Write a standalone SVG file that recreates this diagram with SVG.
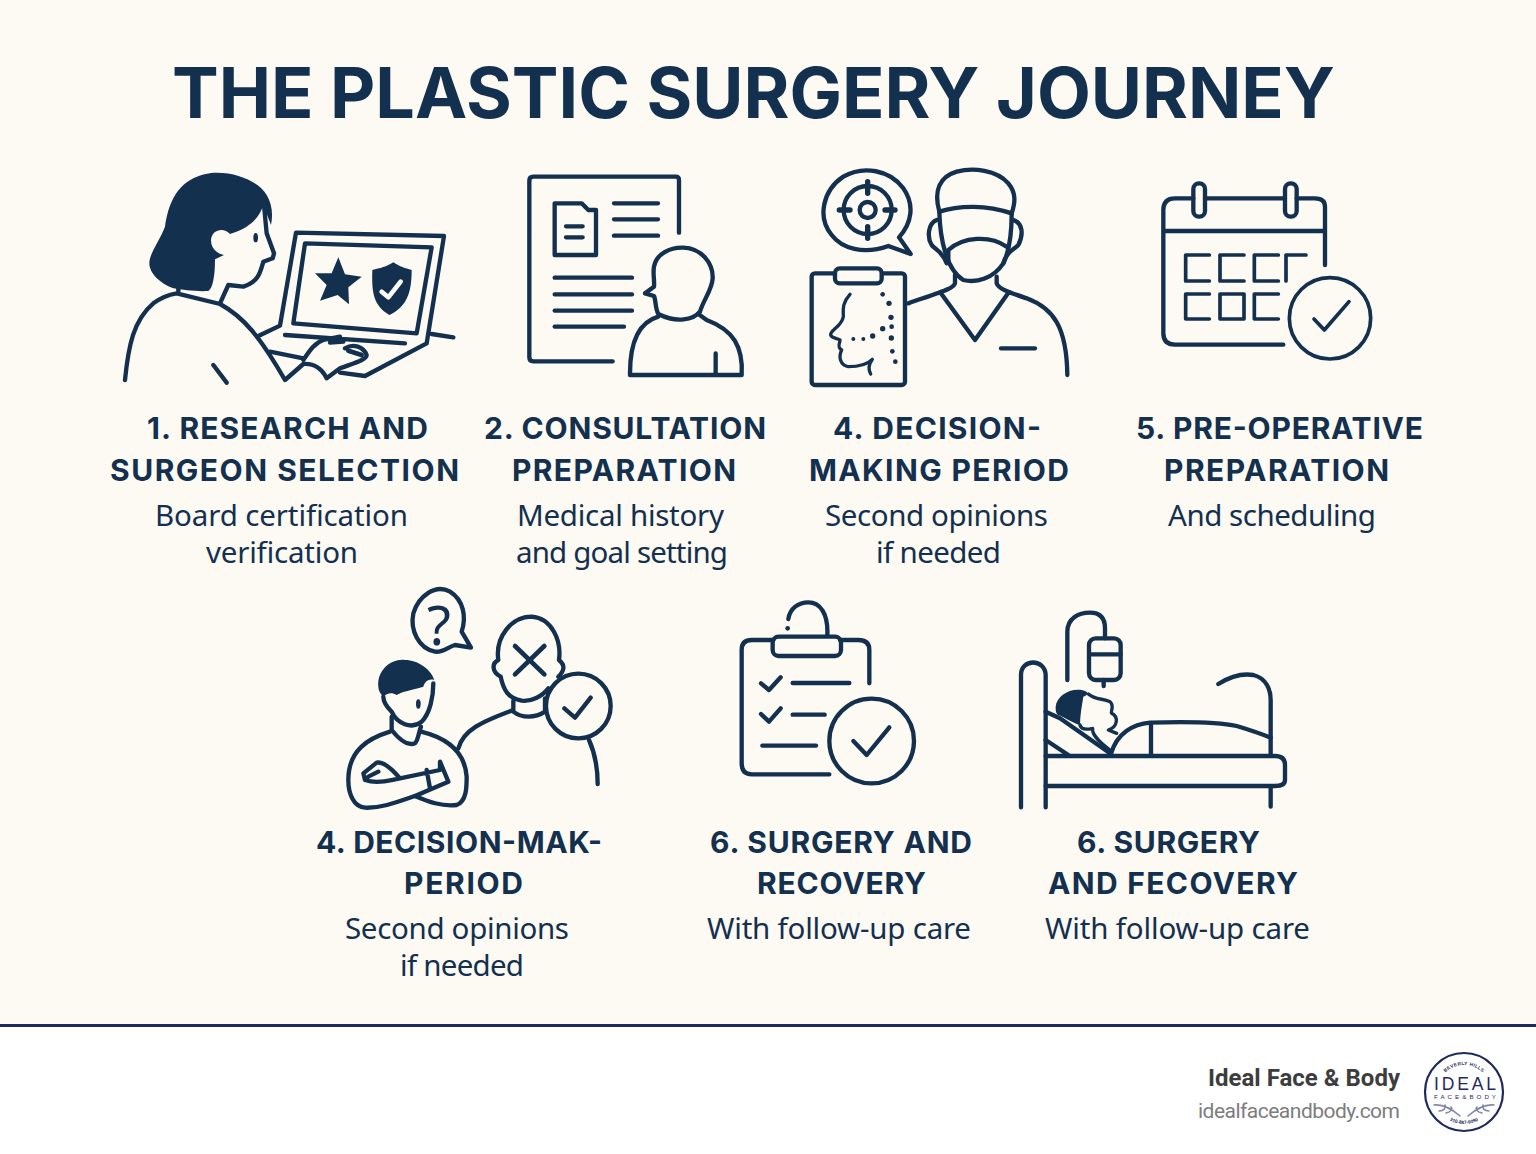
<svg xmlns="http://www.w3.org/2000/svg" width="1536" height="1154" viewBox="0 0 1536 1154">
<style>
.i{fill:none;stroke:#13304f;stroke-width:13;stroke-linecap:round;stroke-linejoin:round}
.t{stroke-width:11}
.f{fill:#13304f;stroke:none}
.b{fill:#fdf9f3}
.h{font-family:"Inter","Liberation Sans",sans-serif;font-weight:700;font-size:30px;fill:#13304f}
.p{font-family:"Noto Sans","Liberation Sans",sans-serif;font-size:29.5px;fill:#13304f}
.l{font-family:"Liberation Sans",sans-serif;fill:#1f2a5c}
</style>
<rect width="1536" height="1154" fill="#fdf9f3"/>
<rect y="1026" width="1536" height="128" fill="#fff"/>
<rect y="1024" width="1536" height="3" fill="#1f2a5c"/>
<text id="title" x="172" y="118" textLength="1163" font-family="Inter,'Liberation Sans',sans-serif" font-weight="700" font-size="70" fill="#13304f">THE PLASTIC SURGERY JOURNEY</text>

<g id="step1">
<g class="i" transform="translate(110,160) scale(.33333)">
<path class="f" d="M320 38C390 38 450 70 470 105C485 130 490 160 483 195L460 135C450 170 420 205 360 222C340 200 305 210 303 240C303 265 320 280 342 285L315 298C315 340 310 385 295 393C260 395 220 390 190 385C150 370 118 340 118 310C118 280 150 240 165 200C175 130 200 80 250 55C275 42 300 38 320 38Z"/>
<path d="M462 135L470 220L492 280L488 295L460 305C450 340 445 365 400 380L355 375L330 430"/>
<ellipse class="f" cx="437" cy="233" rx="7" ry="14"/>
<path d="M45 660C55 560 70 480 130 430C150 415 170 405 200 400L330 432C400 470 450 530 525 660L580 612C610 610 635 625 650 655L690 625C730 610 770 600 770 585C760 560 730 550 705 565M205 385V400M310 615L350 668"/>
<path d="M445 528L510 497L558 218L1002 228L950 550L765 648L690 638M965 522L1030 532"/>
<path d="M585 250L965 262L920 520L550 490Z"/>
<path d="M525 525L885 550M480 575L580 595M580 600C600 570 615 548 640 540L690 530M660 548L700 545"/>
<path d="M715 572L755 585" stroke-width="14"/>
<polygon class="f" points="685,292 705,343 755,350 715,382 717,433 683,405 630,422 650,375 615,340 665,340"/>
<path class="f" d="M850 307C870 320 885 325 905 330C905 400 890 440 838 465C790 435 785 400 787 330C810 325 830 320 850 307Z"/>
<path d="M815 395L835 412L872 365" stroke="#fdf9f3" stroke-width="14"/>
</g>
<text class="h" x="147" y="439" textLength="281">1. RESEARCH AND</text>
<text class="h" x="110" y="481" textLength="349">SURGEON SELECTION</text>
<text class="p" x="155" y="526" textLength="253">Board certification</text>
<text class="p" x="206" y="563" textLength="152">verification</text>
</g>

<g id="step2">
<g class="i" transform="translate(510,160) scale(.33333)">
<path d="M507 218V60Q507 50 497 50H70Q58 50 58 62V592Q58 604 70 604H308"/>
<path d="M134 130H215L235 150H258V285H134Z"/>
<path d="M168 199H218M168 232H218M312 130H444M312 178H444M312 227H444M134 353H366M134 403H366M134 452H366M134 500H342"/>
<path d="M432 320C440 280 480 262 520 263C575 265 610 310 608 355C606 390 580 420 570 455C550 480 500 490 445 462C435 445 438 420 432 408L405 400L432 380C434 360 428 340 432 320Z"/>
<path d="M445 470C410 480 360 510 360 640V645H695C700 560 670 510 590 480L565 462M617 580V645"/>
</g>
<text class="h" x="484" y="439" textLength="282">2. CONSULTATION</text>
<text class="h" x="512" y="481" textLength="224">PREPARATION</text>
<text class="p" x="517" y="526" textLength="207">Medical history</text>
<text class="p" x="516" y="563" textLength="212">and goal setting</text>
</g>

<g id="step3">
<g class="i" transform="translate(800,160) scale(.33333)">
<path d="M265 258C190 285 125 265 95 225C50 170 70 90 130 50C190 15 270 30 310 85C345 135 335 190 297 232L332 282Z"/>
<circle cx="203" cy="150" r="72"/><circle cx="203" cy="150" r="24"/>
<path d="M203 65V100M203 200V235M118 150H150M255 150H285" stroke-width="16"/>
<path d="M418 155C400 90 420 50 470 35C520 22 590 30 625 70C650 100 645 130 635 160C560 135 480 135 418 155Z"/>
<path d="M418 155C420 240 440 330 490 360C530 370 580 355 610 310C630 270 635 210 635 160"/>
<path d="M445 270C490 230 570 225 620 260M445 270V310M410 180C385 190 380 230 395 255C405 270 425 270 440 310M640 180C670 190 670 225 655 255C640 270 620 275 610 310"/>
<path d="M465 345V370C460 385 440 390 325 430M590 350V370C595 385 620 395 680 415C760 445 800 500 802 645M425 403L525 540L622 403M603 565H705"/>
<rect x="35" y="340" width="280" height="335" rx="10"/>
<rect class="b" x="105" y="325" width="140" height="45" rx="14"/>
<path stroke-width="10" d="M150 403C125 430 130 450 130 470C125 500 90 510 92 525C95 535 115 535 120 540C120 550 110 560 125 570C115 590 120 615 145 620C170 620 200 615 217 598C205 615 205 630 212 642"/>
<g class="f"><circle cx="248" cy="403" r="7"/><circle cx="267" cy="430" r="8"/><circle cx="273" cy="472" r="8"/><circle cx="275" cy="500" r="7"/><circle cx="248" cy="506" r="8"/><circle cx="218" cy="528" r="8"/><circle cx="190" cy="537" r="6"/><circle cx="160" cy="537" r="6"/><circle cx="274" cy="534" r="8"/><circle cx="277" cy="574" r="7"/><circle cx="286" cy="605" r="7"/></g>
</g>
<text class="h" x="833" y="439" textLength="208">4. DECISION-</text>
<text class="h" x="809" y="481" textLength="260">MAKING PERIOD</text>
<text class="p" x="825" y="526" textLength="223">Second opinions</text>
<text class="p" x="876" y="563" textLength="125">if needed</text>
</g>

<g id="step4">
<g class="i" transform="translate(1150,170) scale(.33333)">
<path d="M525 285V110Q525 85 495 85H440M405 85H165M130 85H75Q40 85 40 120V490Q40 524 75 524H400M40 183H525"/>
<rect x="130" y="40" width="35" height="100" rx="17"/><rect x="405" y="40" width="35" height="100" rx="17"/>
<path class="t" d="M178 255H107V333H178M282 255H210V333H282M385 255H313V333H385M468 255H408V333M178 372H107V447H178M210 372H282V447H210ZM385 372H313V447H385"/>
<circle class="t" cx="540" cy="445" r="122"/>
<path class="t" d="M492 447L523 480L597 395"/>
</g>
<text class="h" x="1136" y="439" textLength="287">5. PRE-OPERATIVE</text>
<text class="h" x="1164" y="481" textLength="225">PREPARATION</text>
<text class="p" x="1168" y="526" textLength="208">And scheduling</text>
</g>

<g id="step5">
<g class="i" transform="translate(335,580) scale(.33333)">
<path d="M380 155C395 110 385 60 345 35C300 10 250 50 235 100C225 150 250 205 300 215C325 218 340 200 360 195L408 203Z"/>
<path class="f" d="M130 320C125 270 170 235 210 240C250 240 290 270 298 300C280 295 270 305 265 320C230 330 200 335 185 345C170 335 155 340 145 350C135 340 130 330 130 320Z"/>
<path d="M145 350C145 370 160 385 170 395C185 430 230 450 260 425C285 400 295 350 295 310"/>
<ellipse class="f" cx="250" cy="372" rx="7" ry="14"/>
<path d="M170 410V450C190 475 215 500 240 490C250 480 250 460 258 440"/>
<path d="M165 455C100 475 40 510 40 600C40 640 55 680 90 683C140 685 190 665 240 648C280 665 320 680 365 675C395 665 395 620 395 590C390 520 340 475 258 455"/>
<path d="M240 648L340 605L315 545V570L195 595C165 560 140 545 125 548L85 580L90 600C120 610 150 605 195 595M100 590L130 575M275 570L285 625"/>
<path d="M497 290C470 275 470 250 490 240C480 170 530 110 590 110C650 115 680 180 672 240C690 255 690 270 670 290M497 290C505 330 520 355 560 362C590 365 620 350 640 325"/>
<path d="M535 362V395C560 415 600 415 630 395V355M370 505C385 450 440 425 535 390"/>
<circle cx="730" cy="378" r="97"/>
<path d="M688 385L720 413L767 353M762 480C780 520 788 570 788 612"/>
<path d="M540 198L628 283M628 198L540 283" stroke-width="14"/>
</g>
<text x="439" y="645" text-anchor="middle" font-family="Noto Sans,'Liberation Sans',sans-serif" font-size="55" fill="#13304f">?</text>
<text class="h" x="316" y="853" textLength="286">4. DECISION-MAK-</text>
<text class="h" x="404" y="894" textLength="119">PERIOD</text>
<text class="p" x="345" y="939" textLength="224">Second opinions</text>
<text class="p" x="400" y="976" textLength="124">if needed</text>
</g>

<g id="step6">
<g class="i" transform="translate(730,595) scale(.33333)">
<path d="M175 72C180 40 205 22 235 22C270 22 295 55 292 120M418 265V165Q418 135 385 135H330M130 135H65Q35 135 35 165V505Q35 538 65 538H298"/>
<circle class="f" cx="173" cy="100" r="7"/>
<rect x="128" y="125" width="205" height="58" rx="18"/>
<path d="M93 265L117 285L152 247M93 357L117 380L152 340M188 264H358M188 359H284M97 452H258"/>
<circle cx="425" cy="438" r="127"/>
<path d="M370 438L410 480L478 397"/>
</g>
<text class="h" x="710" y="853" textLength="262">6. SURGERY AND</text>
<text class="h" x="757" y="894" textLength="169">RECOVERY</text>
<text class="p" x="707" y="939" textLength="264">With follow-up care</text>
</g>

<g id="step7">
<g class="i" transform="translate(1010,600) scale(.33333)">
<path d="M33 622V225C33 175 105 175 107 225V622M172 240V95C172 55 205 38 240 38C270 38 285 55 285 85V115"/>
<rect x="237" y="115" width="95" height="125" rx="20"/>
<path d="M237 163H332M281 240V258M625 252C660 230 700 220 730 225C770 235 782 270 782 300V460"/>
<path d="M107 468H795Q825 468 825 495V540Q825 558 795 558H107M782 558V620"/>
<path d="M303 462C320 400 370 372 420 368C520 365 620 365 680 378C720 390 750 400 782 413M423 368V465M107 335L150 355L300 460M107 420L175 465"/>
<path class="f" d="M137 320C140 290 175 265 215 270C240 275 235 285 220 290C215 320 210 350 210 375C190 370 160 350 145 345C137 340 137 330 137 320Z"/>
<path stroke-width="10" d="M235 282C255 300 280 295 300 305C315 320 300 335 305 340C325 350 325 380 295 390L320 400M210 375C215 395 245 385 248 385C245 400 265 425 300 450"/>
</g>
<text class="h" x="1077" y="853" textLength="183">6. SURGERY</text>
<text class="h" x="1048" y="894" textLength="250">AND FECOVERY</text>
<text class="p" x="1045" y="939" textLength="265">With follow-up care</text>
</g>

<g id="brand">
<text x="1208" y="1086" textLength="192" font-family="Roboto,'Liberation Sans',sans-serif" font-weight="700" font-size="24" fill="#3d3d3d">Ideal Face &amp; Body</text>
<text x="1198" y="1118" textLength="202" font-family="Roboto,'Liberation Sans',sans-serif" font-size="21" fill="#7d7d7d">idealfaceandbody.com</text>
<circle cx="1464" cy="1092" r="39" fill="#fff" stroke="#1f2a5c" stroke-width="2.2"/>
<defs><path id="arcTop" d="M1437 1092A27 27 0 0 1 1491 1092"/><path id="arcBot" d="M1432 1092A32 32 0 0 0 1496 1092"/></defs>
<text class="l" font-size="4.8" font-weight="700" letter-spacing=".3"><textPath href="#arcTop" startOffset="50%" text-anchor="middle">BEVERLY HILLS</textPath></text>
<text class="l" font-size="4.8" font-weight="700"><textPath href="#arcBot" startOffset="50%" text-anchor="middle">310-887-9090</textPath></text>
<text class="l" x="1434" y="1090" textLength="62" font-size="17.5">IDEAL</text>
<text class="l" x="1434" y="1099" textLength="62" font-size="6.2">FACE&amp;BODY</text>
<path d="M1434 1105C1443 1104 1452 1109 1460 1116M1494 1105C1485 1104 1476 1109 1468 1116M1439 1111C1444 1111 1446 1108 1445 1105M1446 1113C1451 1112 1453 1109 1451 1107M1489 1111C1484 1111 1482 1108 1483 1105M1482 1113C1477 1112 1475 1109 1477 1107" fill="none" stroke="#7f88a8" stroke-width="1.6" stroke-linecap="round"/>
</g>
</svg>
